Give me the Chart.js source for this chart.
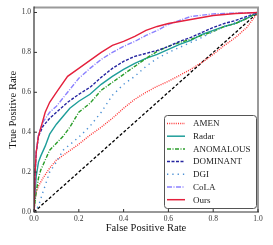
<!DOCTYPE html>
<html>
<head>
<meta charset="utf-8">
<script src="https://cdn.jsdelivr.net/npm/chart.js@4.4.0/dist/chart.umd.min.js"></script>
<style>
  html, body { margin: 0; padding: 0; background: #fff; }
</style>
</head>
<body>
<canvas id="roc" width="273" height="245"></canvas>
<script>
// ROC curves, values (FPR / TPR)
const axisTicks = [0, 0.2, 0.4, 0.6, 0.8, 1.0];

const fprAmen = [0, 0.005, 0.01, 0.02, 0.04, 0.07, 0.1, 0.15, 0.2, 0.25, 0.3, 0.35, 0.4, 0.45, 0.5, 0.55, 0.6, 0.65, 0.7, 0.75, 0.8, 0.85, 0.9, 0.95, 1];
const tprAmen = [0, 0.06, 0.1, 0.13, 0.17, 0.22, 0.26, 0.3, 0.34, 0.385, 0.425, 0.47, 0.52, 0.565, 0.6, 0.63, 0.655, 0.685, 0.715, 0.75, 0.79, 0.835, 0.875, 0.925, 1];

const fprRadar = [0, 0.005, 0.01, 0.02, 0.03, 0.05, 0.07, 0.1, 0.13, 0.16, 0.2, 0.25, 0.3, 0.35, 0.4, 0.45, 0.5, 0.55, 0.6, 0.65, 0.7, 0.75, 0.8, 0.85, 0.9, 0.95, 1];
const tprRadar = [0, 0.1, 0.18, 0.25, 0.28, 0.33, 0.39, 0.44, 0.48, 0.52, 0.555, 0.59, 0.64, 0.68, 0.715, 0.745, 0.77, 0.79, 0.815, 0.84, 0.86, 0.89, 0.91, 0.93, 0.945, 0.97, 1];

const fprAnomalous = [0, 0.005, 0.01, 0.02, 0.03, 0.05, 0.07, 0.1, 0.13, 0.16, 0.2, 0.25, 0.3, 0.35, 0.4, 0.45, 0.5, 0.55, 0.6, 0.65, 0.7, 0.75, 0.8, 0.85, 0.9, 0.95, 1];
const tprAnomalous = [0, 0.06, 0.1, 0.17, 0.21, 0.26, 0.31, 0.345, 0.38, 0.425, 0.5, 0.545, 0.61, 0.65, 0.69, 0.73, 0.77, 0.805, 0.83, 0.85, 0.865, 0.885, 0.905, 0.93, 0.945, 0.97, 1];

const fprDominant = [0, 0.005, 0.01, 0.02, 0.04, 0.07, 0.1, 0.15, 0.2, 0.25, 0.3, 0.35, 0.4, 0.45, 0.5, 0.55, 0.6, 0.65, 0.7, 0.75, 0.8, 0.85, 0.9, 0.95, 1];
const tprDominant = [0, 0.2, 0.3, 0.38, 0.43, 0.47, 0.5, 0.55, 0.59, 0.625, 0.675, 0.72, 0.755, 0.78, 0.795, 0.81, 0.83, 0.855, 0.875, 0.9, 0.925, 0.945, 0.96, 0.98, 1];

const fprDgi = [0, 0.02, 0.04, 0.07, 0.1, 0.13, 0.2, 0.25, 0.3, 0.35, 0.4, 0.45, 0.5, 0.55, 0.6, 0.65, 0.7, 0.75, 0.8, 0.85, 0.9, 0.95, 1];
const tprDgi = [0, 0.03, 0.1, 0.2, 0.25, 0.31, 0.375, 0.43, 0.5, 0.585, 0.64, 0.68, 0.73, 0.77, 0.8, 0.825, 0.85, 0.875, 0.905, 0.93, 0.95, 0.975, 1];

const fprCola = [0, 0.005, 0.01, 0.02, 0.04, 0.07, 0.1, 0.15, 0.2, 0.25, 0.3, 0.35, 0.4, 0.45, 0.5, 0.55, 0.6, 0.65, 0.7, 0.8, 0.9, 1];
const tprCola = [0, 0.2, 0.3, 0.39, 0.45, 0.5, 0.53, 0.6, 0.67, 0.72, 0.765, 0.8, 0.83, 0.855, 0.885, 0.91, 0.94, 0.96, 0.98, 0.993, 0.997, 1];

const fprOurs = [0, 0.005, 0.01, 0.02, 0.03, 0.05, 0.07, 0.1, 0.15, 0.2, 0.25, 0.3, 0.35, 0.4, 0.45, 0.5, 0.55, 0.6, 0.7, 0.8, 0.9, 1];
const tprOurs = [0, 0.2, 0.3, 0.38, 0.42, 0.5, 0.55, 0.6, 0.68, 0.72, 0.76, 0.8, 0.835, 0.855, 0.88, 0.91, 0.93, 0.945, 0.965, 0.985, 0.995, 1];

const diagFpr = [0, 1];
const diagTpr = [0, 1];

const serif = "'Liberation Serif', 'DejaVu Serif', serif";

function pts(xs, ys) {
  return xs.map((x, i) => ({ x: x, y: ys[i] }));
}

function series(label, xs, ys, color, dash, order) {
  return {
    label: label,
    data: pts(xs, ys),
    borderColor: color,
    borderDash: dash,
    borderWidth: 1.4,
    pointRadius: 0,
    showLine: true,
    fill: false,
    tension: 0,
    order: order
  };
}

const datasets = [
  series('AMEN', fprAmen, tprAmen, '#ff3434', [1, 1.2], 6),
  series('Radar', fprRadar, tprRadar, '#1f9e9a', [], 5),
  series('ANOMALOUS', fprAnomalous, tprAnomalous, '#2a9d2a', [4, 1.5, 1, 1.5], 4),
  series('DOMINANT', fprDominant, tprDominant, '#2424a0', [3, 1.5], 3),
  series('DGI', fprDgi, tprDgi, '#4a8fd4', [1.3, 4], 2),
  series('CoLA', fprCola, tprCola, '#8a80ff', [5, 1.5, 1, 1.5], 1),
  series('Ours', fprOurs, tprOurs, '#e4203c', [], 0)
];
const nLegend = datasets.length;
datasets.push({
  label: 'chance',
  data: pts(diagFpr, diagTpr),
  borderColor: '#000',
  borderDash: [3, 2],
  borderWidth: 1.3,
  pointRadius: 0,
  showLine: true,
  order: 7
});

// frame: dark left/bottom axes, gray top/right, inward tick marks
const framePlugin = {
  id: 'frame',
  afterDraw(chart) {
    const { ctx, chartArea: a } = chart;
    const xs = chart.scales.x, ys = chart.scales.y;
    ctx.save();
    ctx.strokeStyle = '#9a9a9a';
    ctx.lineWidth = 2;
    ctx.beginPath();
    ctx.moveTo(a.left, a.top);
    ctx.lineTo(a.right, a.top);
    ctx.lineTo(a.right, a.bottom);
    ctx.stroke();
    ctx.strokeStyle = '#333';
    ctx.lineWidth = 1.2;
    ctx.beginPath();
    ctx.moveTo(a.left, a.top - 1);
    ctx.lineTo(a.left, a.bottom);
    ctx.lineTo(a.right + 1, a.bottom);
    ctx.stroke();
    ctx.lineWidth = 1;
    ctx.beginPath();
    axisTicks.forEach(v => {
      const px = xs.getPixelForValue(v);
      ctx.moveTo(px, a.bottom);
      ctx.lineTo(px, a.bottom - 3);
      const py = ys.getPixelForValue(v);
      ctx.moveTo(a.left, py);
      ctx.lineTo(a.left + 3, py);
    });
    ctx.stroke();
    ctx.restore();
  }
};

// legend box in the lower right of the plot
const legendPlugin = {
  id: 'rocLegend',
  afterDraw(chart) {
    const { ctx, chartArea: a } = chart;
    const boxW = 92, boxH = 93;
    const x0 = a.right - 2 - boxW, y0 = a.bottom - 4 - boxH;
    ctx.save();
    ctx.fillStyle = '#fff';
    ctx.strokeStyle = '#555';
    ctx.lineWidth = 1;
    ctx.beginPath();
    ctx.roundRect(x0 + 0.5, y0 + 0.5, boxW, boxH, 3);
    ctx.fill();
    ctx.stroke();
    ctx.font = '9px ' + serif;
    ctx.textBaseline = 'middle';
    for (let i = 0; i < nLegend; i++) {
      const ds = chart.data.datasets[i];
      const y = y0 + 8.5 + i * 12.7;
      ctx.strokeStyle = ds.borderColor;
      ctx.lineWidth = 1.5;
      ctx.setLineDash(ds.borderDash);
      ctx.beginPath();
      ctx.moveTo(x0 + 3, y);
      ctx.lineTo(x0 + 21, y);
      ctx.stroke();
      ctx.setLineDash([]);
      ctx.fillStyle = '#222';
      ctx.fillText(ds.label, x0 + 29, y + 0.5);
    }
    ctx.restore();
  }
};

new Chart(document.getElementById('roc'), {
  type: 'scatter',
  data: { datasets: datasets },
  options: {
    responsive: false,
    devicePixelRatio: 1,
    animation: false,
    layout: { padding: { left: 0, right: 15, top: 7, bottom: 0 } },
    plugins: { legend: { display: false }, tooltip: { enabled: false } },
    scales: {
      x: {
        type: 'linear',
        min: 0,
        max: 1,
        afterFit: s => { s.height = 33; },
        afterBuildTicks: s => { s.ticks = axisTicks.map(v => ({ value: v })); },
        grid: { display: false, drawTicks: false },
        border: { display: false },
        ticks: {
          padding: 3,
          color: '#333',
          font: { family: serif, size: 7.5 },
          maxRotation: 0,
          callback: v => Number(v).toFixed(1)
        },
        title: {
          display: true,
          text: 'False Positive Rate',
          color: '#111',
          font: { family: serif, size: 10.5 },
          padding: { top: 0, bottom: 10.5 }
        }
      },
      y: {
        type: 'linear',
        min: 0,
        max: 1.025,
        afterFit: s => { s.width = 34; },
        afterBuildTicks: s => { s.ticks = axisTicks.map(v => ({ value: v })); },
        grid: { display: false, drawTicks: false },
        border: { display: false },
        ticks: {
          padding: 3,
          color: '#333',
          font: { family: serif, size: 7.5 },
          callback: v => Number(v).toFixed(1)
        },
        title: {
          display: true,
          text: 'True Positive Rate',
          color: '#111',
          font: { family: serif, size: 10.5 },
          padding: { top: 6.7, bottom: 0 }
        }
      }
    }
  },
  plugins: [framePlugin, legendPlugin]
});
</script>
</body>
</html>
